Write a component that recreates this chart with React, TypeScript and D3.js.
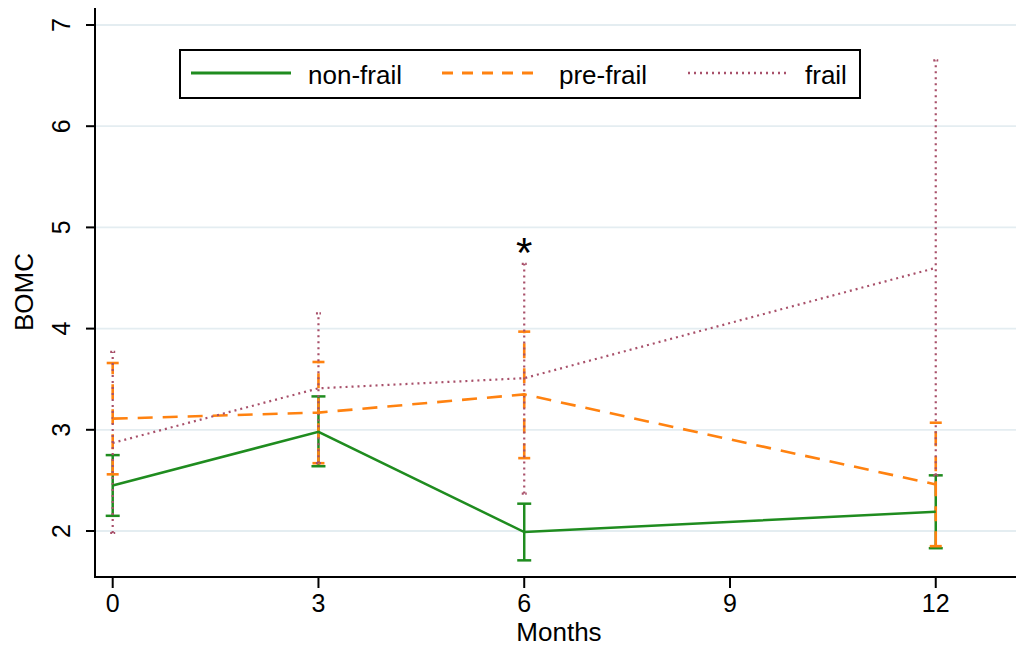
import React from 'react';
import * as d3 from 'd3';

const months = [0, 3, 6, 12];
const xTicks = [0, 3, 6, 9, 12];
const yTicks = [2, 3, 4, 5, 6, 7];

const nonFrailMean = [2.45, 2.98, 1.99, 2.19];
const nonFrailLo = [2.15, 2.64, 1.71, 1.83];
const nonFrailHi = [2.75, 3.33, 2.27, 2.55];

const preFrailMean = [3.11, 3.17, 3.35, 2.46];
const preFrailLo = [2.56, 2.67, 2.72, 1.85];
const preFrailHi = [3.66, 3.67, 3.97, 3.07];

const frailMean = [2.87, 3.41, 3.51, 4.6];
const frailLo = [1.98, 2.67, 2.37, 2.55];
const frailHi = [3.77, 4.15, 4.64, 6.65];

// significance marker at month 6
const starMonth = 6;

const width = 1016;
const height = 652;
const FONT = '"Liberation Sans", Arial, sans-serif';

const series = [
  { name: 'non-frail', mean: nonFrailMean, lo: nonFrailLo, hi: nonFrailHi, color: '#1f8c1f', dash: null, legendDash: null, width: 2.5, cap: 14 },
  { name: 'pre-frail', mean: preFrailMean, lo: preFrailLo, hi: preFrailHi, color: '#ff8210', dash: '15 10', legendDash: '11 9', width: 2.6, cap: 12 },
  { name: 'frail', mean: frailMean, lo: frailLo, hi: frailHi, color: '#a8506a', dash: '2 4', legendDash: '2 4', width: 2.2, cap: 5 },
];

const App = () => {
  const x = d3.scaleLinear().domain([-0.258, 13.17]).range([95, 1016]);
  const y = d3.scaleLinear().domain([2, 7]).range([531, 25]);
  const plotTop = 8;
  const plotBottom = 577;

  const line = d3
    .line<number>()
    .x((_, i) => x(months[i]))
    .y((d) => y(d));

  const legendItems = [
    { lx: 191, tx: 308 },
    { lx: 442, tx: 559 },
    { lx: 688, tx: 805 },
  ];

  return (
    <>
      <style>{'body{margin:0}'}</style>
      <svg width={width} height={height} style={{ display: 'block', background: '#fff' }} fontFamily={FONT}>
        {/* grid */}
        {yTicks.map((t) => (
          <line key={'g' + t} x1={96} x2={1016} y1={y(t)} y2={y(t)} stroke="#e4edf1" strokeWidth={1.8} />
        ))}

        {/* error bars */}
        {series.map((s) =>
          months.map((m, i) => (
            <g key={s.name + m} stroke={s.color} strokeWidth={s.width} fill="none">
              <line x1={x(m)} x2={x(m)} y1={y(s.lo[i])} y2={y(s.hi[i])} strokeDasharray={s.dash || undefined} />
              <line x1={x(m) - s.cap / 2} x2={x(m) + s.cap / 2} y1={y(s.lo[i])} y2={y(s.lo[i])} strokeDasharray={s.name === 'frail' ? '2 1.5' : undefined} />
              <line x1={x(m) - s.cap / 2} x2={x(m) + s.cap / 2} y1={y(s.hi[i])} y2={y(s.hi[i])} strokeDasharray={s.name === 'frail' ? '2 1.5' : undefined} />
            </g>
          ))
        )}

        {/* mean lines */}
        {series.map((s) => (
          <path key={'l' + s.name} d={line(s.mean) || ''} fill="none" stroke={s.color} strokeWidth={s.width} strokeDasharray={s.dash || undefined} />
        ))}

        {/* asterisk */}
        <text x={x(starMonth)} y={267} fontSize={42} textAnchor="middle" fill="#000">*</text>

        {/* axes */}
        <line x1={95} x2={95} y1={plotTop} y2={plotBottom + 1} stroke="#000" strokeWidth={2} />
        <line x1={94} x2={1016} y1={plotBottom} y2={plotBottom} stroke="#000" strokeWidth={2} />
        {yTicks.map((t) => (
          <g key={'y' + t}>
            <line x1={86} x2={95} y1={y(t)} y2={y(t)} stroke="#000" strokeWidth={2} />
            <text transform={`translate(70,${y(t)}) rotate(-90)`} textAnchor="middle" fontSize={25} fill="#000">{t}</text>
          </g>
        ))}
        {xTicks.map((t) => (
          <g key={'x' + t}>
            <line x1={x(t)} x2={x(t)} y1={plotBottom} y2={plotBottom + 11} stroke="#000" strokeWidth={2} />
            <text x={x(t)} y={612} textAnchor="middle" fontSize={25} fill="#000">{t}</text>
          </g>
        ))}
        <text x={559} y={641} textAnchor="middle" fontSize={26} fill="#000">Months</text>
        <text transform="translate(33,292) rotate(-90)" textAnchor="middle" fontSize={26} fill="#000">BOMC</text>

        {/* legend */}
        <rect x={180} y={50} width={680} height={48} fill="#fff" stroke="#000" strokeWidth={2} />
        {series.map((s, i) => (
          <g key={'lg' + s.name}>
            <line x1={legendItems[i].lx} x2={legendItems[i].lx + 100} y1={73} y2={73} stroke={s.color} strokeWidth={s.width + 0.4} strokeDasharray={s.legendDash || undefined} />
            <text x={legendItems[i].tx} y={84} fontSize={26} fill="#000">{s.name}</text>
          </g>
        ))}
      </svg>
    </>
  );
};

export default App;
